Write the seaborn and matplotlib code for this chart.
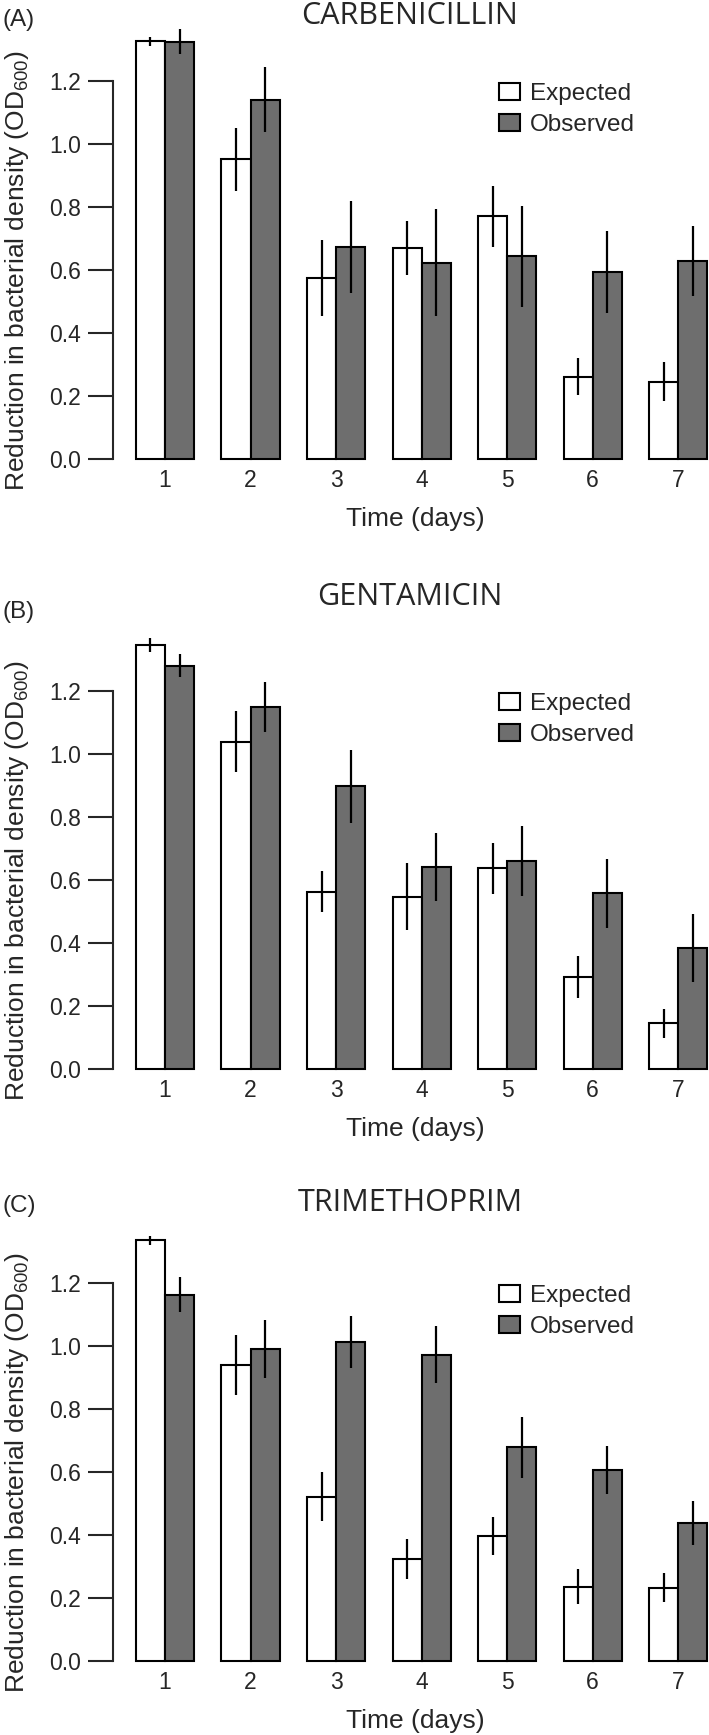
import numpy as np
import pandas as pd
import matplotlib
matplotlib.use("Agg")
import matplotlib.pyplot as plt
import seaborn as sns

# Values
days = ["1", "2", "3", "4", "5", "6", "7"]
groups = ["Expected", "Observed"]
drugs = ["CARBENICILLIN", "GENTAMICIN", "TRIMETHOPRIM"]
panel_tags = ["(A)", "(B)", "(C)"]

carb_exp = [1.326, 0.951, 0.575, 0.669, 0.770, 0.261, 0.246]
carb_exp_err = [0.015, 0.100, 0.120, 0.085, 0.097, 0.059, 0.063]
carb_obs = [1.325, 1.141, 0.673, 0.623, 0.644, 0.593, 0.628]
carb_obs_err = [0.040, 0.103, 0.145, 0.170, 0.160, 0.130, 0.112]

gent_exp = [1.346, 1.039, 0.562, 0.547, 0.637, 0.292, 0.146]
gent_exp_err = [0.021, 0.097, 0.065, 0.106, 0.081, 0.068, 0.046]
gent_obs = [1.280, 1.149, 0.897, 0.640, 0.660, 0.558, 0.384]
gent_obs_err = [0.037, 0.078, 0.117, 0.108, 0.112, 0.110, 0.109]

trim_exp = [1.335, 0.939, 0.522, 0.324, 0.396, 0.236, 0.233]
trim_exp_err = [0.014, 0.095, 0.079, 0.064, 0.060, 0.055, 0.047]
trim_obs = [1.163, 0.992, 1.012, 0.972, 0.678, 0.605, 0.439]
trim_obs_err = [0.055, 0.092, 0.083, 0.090, 0.096, 0.076, 0.070]

means = [(carb_exp, carb_obs), (gent_exp, gent_obs), (trim_exp, trim_obs)]
errs = [(carb_exp_err, carb_obs_err), (gent_exp_err, gent_obs_err), (trim_exp_err, trim_obs_err)]

sns.set_style("ticks")
plt.rcParams['font.family'] = ['Liberation Sans', 'DejaVu Sans']
plt.rcParams['mathtext.fontset'] = 'custom'
plt.rcParams['mathtext.rm'] = 'Liberation Sans'
plt.rcParams['mathtext.default'] = 'regular'

W, H = 709, 1735
fig = plt.figure(figsize=(W / 100, H / 100), dpi=100)

# pixel layout of each panel (y of the zero line), px per unit
zero_px = [459, 1069, 1661]
title_px = [16, 597, 1203]
tag_px = [20, 612, 1206]
scale = 315
ylo, yhi = -0.02, 1.40
left_px, right_px = 113, 709

for i in range(3):
    bottom_px = zero_px[i] - ylo * scale
    height_px = (yhi - ylo) * scale
    ax = fig.add_axes([left_px / W, 1 - bottom_px / H,
                       (right_px - left_px) / W, height_px / H])

    df = pd.DataFrame({
        "day": days * 2,
        "group": [groups[0]] * 7 + [groups[1]] * 7,
        "value": list(means[i][0]) + list(means[i][1]),
    })
    sns.barplot(data=df, x="day", y="value", hue="group", hue_order=groups,
                palette=["white", "#6e6e6e"], edgecolor="black", linewidth=1.5,
                width=0.68, gap=0, errorbar=None, ax=ax)

    # error bars at the centres of the drawn bars
    for cont, err in zip(ax.containers, errs[i]):
        xs = [p.get_x() + p.get_width() / 2 for p in cont.patches]
        ys = [p.get_height() for p in cont.patches]
        ax.errorbar(xs, ys, yerr=err, fmt="none", ecolor="black",
                    elinewidth=1.6, capsize=0, zorder=5)

    ax.set_xlim(-0.608, 6.36)
    ax.set_ylim(ylo, yhi)
    ax.set_yticks([0, 0.2, 0.4, 0.6, 0.8, 1.0, 1.2])
    ax.set_yticklabels(["0.0", "0.2", "0.4", "0.6", "0.8", "1.0", "1.2"])
    sns.despine(ax=ax, bottom=True)
    ax.spines['left'].set_bounds(0, 1.2)
    ax.spines['left'].set_linewidth(1.5)
    ax.tick_params(axis='y', length=18, width=1.5, pad=5, labelsize=16.5)
    ax.tick_params(axis='x', length=0, pad=3, labelsize=16.5)

    ax.set_xlabel("Time (days)", fontsize=19)
    ax.xaxis.set_label_coords(0.508, -0.094)
    ax.set_ylabel("Reduction in bacterial density (OD$_{600}$)", fontsize=19)
    ax.yaxis.set_label_coords(-0.138, (0.6 - ylo) / (yhi - ylo))

    handles, labels = ax.get_legend_handles_labels()
    ax.legend(handles, labels, loc="upper left",
              bbox_to_anchor=(0.648, (1.194 - ylo) / (yhi - ylo)),
              frameon=False, borderpad=0, borderaxespad=0, fontsize=17.5,
              handlelength=0.86, handleheight=0.7, handletextpad=0.41,
              labelspacing=0.38)

    fig.text(410 / W, 1 - title_px[i] / H, drugs[i], ha="center", va="center",
             fontsize=22, family=["Open Sans", "DejaVu Sans"])
    fig.text(3 / W, 1 - tag_px[i] / H, panel_tags[i], ha="left", va="center",
             fontsize=17.5)

fig.savefig("out.png", dpi=100)
